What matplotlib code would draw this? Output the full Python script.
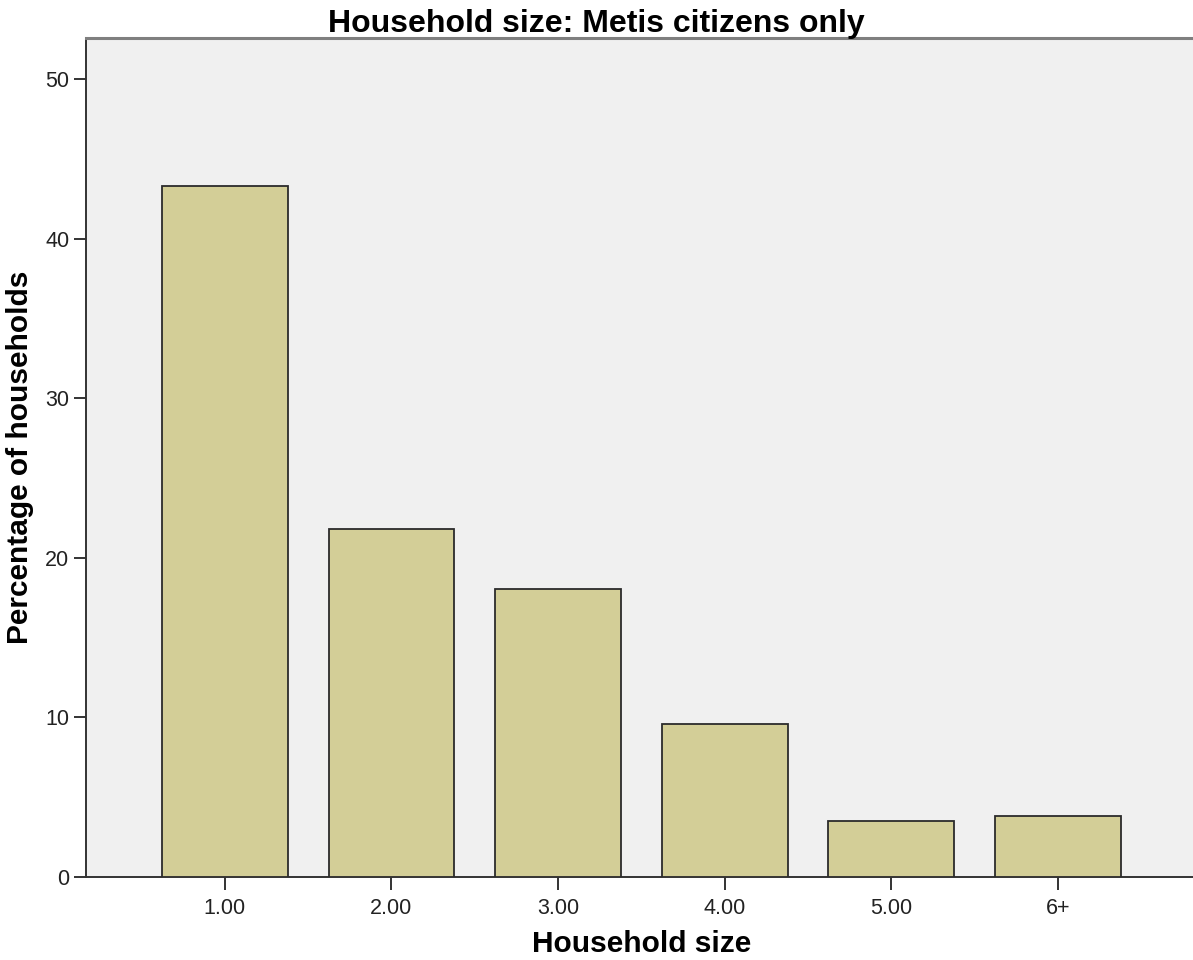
"""Household size: Metis citizens only — bar chart"""

import matplotlib
matplotlib.use('Agg')
import matplotlib.pyplot as plt

# Data
categories = ['1.00', '2.00', '3.00', '4.00', '5.00', '6+']
percentages = [43.35, 21.8, 18.05, 9.6, 3.5, 3.85]
y_ticks = [0, 10, 20, 30, 40, 50]

plt.rcParams['font.family'] = ['Liberation Sans', 'DejaVu Sans']

fig = plt.figure(figsize=(11.93, 9.6), dpi=100)
ax = fig.add_axes([0.0721, 0.0865, 0.9309, 0.8739])
ax.set_facecolor('#F0F0F0')

positions = list(range(len(categories)))
ax.bar(positions, percentages, width=0.756, color='#D3CE97',
       edgecolor='#2b2b2b', linewidth=1.3, zorder=3)

ax.set_xlim(-0.834, 5.834)
ax.set_ylim(0, 52.6)
ax.set_xticks(positions)
ax.set_xticklabels(categories)
ax.set_yticks(y_ticks)

ax.tick_params(axis='both', direction='out', length=9, width=1.4,
               color='#333333', labelsize=15.5, labelcolor='#222222')
ax.tick_params(axis='x', pad=6)
ax.tick_params(axis='y', pad=3)

# Рамка
ax.spines['right'].set_visible(False)
ax.spines['left'].set_color('#333333')
ax.spines['bottom'].set_color('#333333')
ax.spines['left'].set_linewidth(1.4)
ax.spines['bottom'].set_linewidth(1.4)
ax.spines['top'].set_color('#7f7f7f')
ax.spines['top'].set_linewidth(2.2)

ax.set_xlabel('Household size', fontsize=21.5, fontweight='bold', labelpad=8)
ax.set_ylabel('Percentage of households', fontsize=21.5, fontweight='bold',
              labelpad=8)
fig.text(0.5, 0.967, 'Household size: Metis citizens only', ha='center',
         va='baseline', fontsize=23, fontweight='bold')

fig.savefig('out.png', dpi=100, facecolor='white')
